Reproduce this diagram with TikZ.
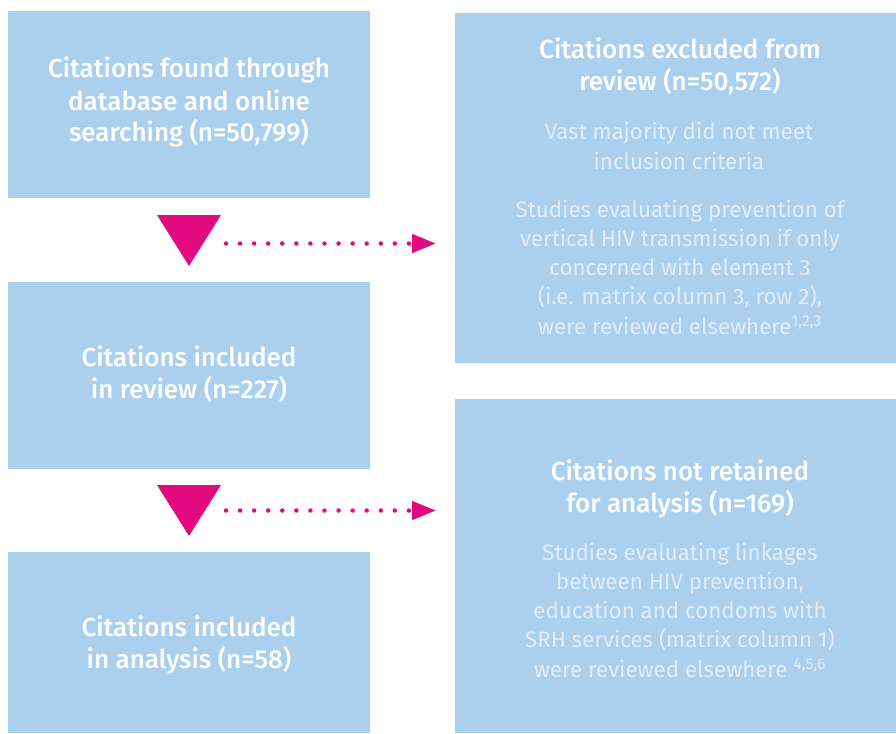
\documentclass[tikz,border=0pt]{standalone}
\usepackage{fontspec}
\setmainfont{Fira Sans}
\newfontfamily\titlefont{Fira Sans Medium}
\newfontfamily\bodyfont{Fira Sans}
\usetikzlibrary{arrows.meta}
\definecolor{boxblue}{RGB}{171,208,237}
\definecolor{magentaarrow}{RGB}{227,9,126}
\definecolor{bodytext}{RGB}{224,237,249}
\tikzset{
  box/.style={fill=boxblue, draw=none, inner sep=0pt},
  titletext/.style={text=white, align=center, anchor=base, font=\titlefont\fontsize{26}{32}\selectfont},
  bodytextstyle/.style={text=bodytext, align=center, anchor=base, font=\bodyfont\fontsize{22.3}{29.2}\selectfont},
  dotarrow/.style={magentaarrow, line width=4.5pt, line cap=round, dash pattern=on 0pt off 14.07pt,
    -{Triangle[length=24pt,width=18pt]}},
  downtri/.style={fill=magentaarrow, draw=none}
}
\begin{document}
\begin{tikzpicture}[x=1pt,y=-1pt]
\useasboundingbox (0,0) rectangle (896,733);
% boxes
\fill[box] (8,11) rectangle (370,198);
\fill[box] (8,282) rectangle (370,469);
\fill[box] (8,552) rectangle (370,733);
\fill[box] (455,13) rectangle (896,363);
\fill[box] (455,399) rectangle (896,733);
% texts (anchor base = last line baseline)
\node[titletext] (t1) at (189,142) {Citations found through\\database and online\\searching (n=50,799)};
\node[titletext] (t2) at (189,398) {Citations included\\in review (n=227)};
\node[titletext] (t3) at (189,668) {Citations included\\in analysis (n=58)};
\node[titletext] (t4) at (680,91) {Citations excluded from\\review (n=50,572)};
\node[bodytextstyle] (t5) at (679,169) {Vast majority did not meet\\inclusion criteria};
\node[bodytextstyle] (t6) at (680,334) {Studies evaluating prevention of\\vertical HIV transmission if only\\concerned with element 3\\(i.e. matrix column 3, row 2),\\were reviewed elsewhere\textsuperscript{1,2,3}};
\node[titletext] (t7) at (680,512) {Citations not retained\\for analysis (n=169)};
\node[bodytextstyle] (t8) at (680,677) {Studies evaluating linkages\\between HIV prevention,\\education and condoms with\\SRH services (matrix column 1)\\were reviewed elsewhere \textsuperscript{4,5,6}};
% down triangles
\fill[downtri] (157,215) -- (221,215) -- (189,266) -- cycle;
\fill[downtri] (157,485) -- (221,485) -- (189,536) -- cycle;
% dotted arrows
\coordinate (a1s) at (226,243.5);
\coordinate (a1e) at (436,243.5);
\coordinate (a2s) at (226,510.5);
\coordinate (a2e) at (436,510.5);
\draw[dotarrow] (a1s) -- (a1e);
\draw[dotarrow] (a2s) -- (a2e);
\end{tikzpicture}
\end{document}
